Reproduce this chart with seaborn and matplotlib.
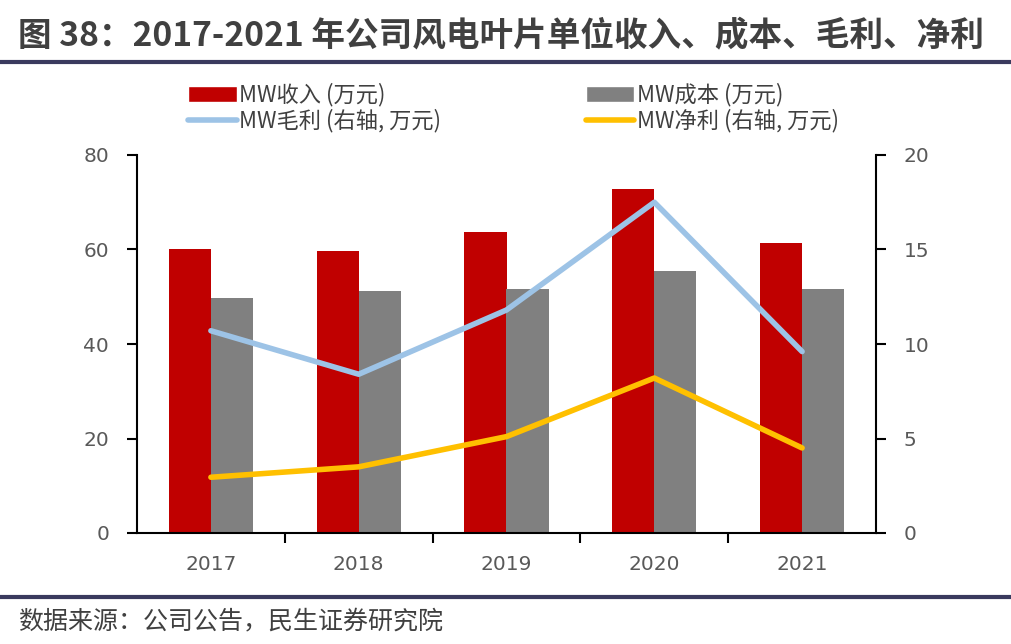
import numpy as np
import pandas as pd
import seaborn as sns
import matplotlib.pyplot as plt
from matplotlib.patches import Patch
from matplotlib.lines import Line2D

years = ['2017', '2018', '2019', '2020', '2021']
revenue = [60.1, 59.7, 63.6, 72.9, 61.3]   # MW收入, left axis
cost = [49.7, 51.2, 51.6, 55.4, 51.6]      # MW成本, left axis
gross = [10.7, 8.4, 11.8, 17.5, 9.6]       # MW毛利, right axis
net = [2.95, 3.5, 5.1, 8.2, 4.5]           # MW净利, right axis

labels = ['MW收入 (万元)', 'MW成本 (万元)', 'MW毛利 (右轴, 万元)', 'MW净利 (右轴, 万元)']
title = '图 38：2017-2021 年公司风电叶片单位收入、成本、毛利、净利'
source = '数据来源：公司公告，民生证券研究院'

RED = '#C00000'
GRAY = '#808080'
BLUE = '#9DC3E6'
GOLD = '#FFC000'
TXT = '#595959'
NAVY = '#3a3a5e'

sns.set_theme(style='ticks')
plt.rcParams['font.family'] = ['Noto Sans CJK SC', 'DejaVu Sans']

df = pd.DataFrame({
    'year': years * 2,
    'value': revenue + cost,
    'series': [labels[0]] * len(years) + [labels[1]] * len(years),
})

fig = plt.figure(figsize=(10.11, 6.44), dpi=100)
ax = fig.add_axes([137 / 1011, 111 / 644, (876 - 137) / 1011, (533 - 155) / 644])

sns.barplot(data=df, x='year', y='value', hue='series', palette=[RED, GRAY],
            width=0.57, gap=0, saturation=1, legend=False, linewidth=0, ax=ax)
ax.set_ylim(0, 80)
ax.set_yticks([0, 20, 40, 60, 80])
ax.set_xlabel('')
ax.set_ylabel('')

ax2 = ax.twinx()
xpos = np.arange(len(years))
sns.lineplot(x=xpos, y=gross, ax=ax2, color=BLUE, linewidth=4)
sns.lineplot(x=xpos, y=net, ax=ax2, color=GOLD, linewidth=4)
ax2.set_ylim(0, 20)
ax2.set_yticks([0, 5, 10, 15, 20])
ax.set_xlim(-0.5, len(years) - 0.5)

# spines
for s in ['top', 'right']:
    ax.spines[s].set_visible(False)
for s in ['top', 'left', 'bottom']:
    ax2.spines[s].set_visible(False)
for sp in [ax.spines['left'], ax.spines['bottom'], ax2.spines['right']]:
    sp.set_color('black')
    sp.set_linewidth(1.5)

# x ticks: labels at centres, tick marks between categories
ax.set_xticks(xpos)
ax.set_xticklabels(years)
ax.set_xticks(np.arange(0.5, len(years) - 1, 1), minor=True)
ax.tick_params(axis='x', which='major', length=0, pad=16, labelsize=14.5, labelcolor=TXT)
ax.tick_params(axis='x', which='minor', length=7, width=1.5, color='black')
ax.tick_params(axis='y', length=7, width=1.5, color='black', labelsize=14.5, labelcolor=TXT, pad=13)
ax2.tick_params(axis='y', length=7, width=1.5, color='black', labelsize=14.5, labelcolor=TXT, pad=13)
for lab in ax.get_xticklabels() + ax.get_yticklabels() + ax2.get_yticklabels():
    lab.set_family('DejaVu Sans')

handles = [
    Patch(facecolor=RED, label=labels[0]),
    Line2D([], [], color=BLUE, lw=4, label=labels[2]),
    Patch(facecolor=GRAY, label=labels[1]),
    Line2D([], [], color=GOLD, lw=4, label=labels[3]),
]
fig.legend(handles=handles, ncol=2, loc='upper left',
           bbox_to_anchor=(168 / 1011, 1 - 63 / 644), frameon=False,
           fontsize=16, labelcolor='#404040', handlelength=2.2, handleheight=0.7,
           handletextpad=0.1, columnspacing=6.5, labelspacing=0.1)

fig.text(18 / 1011, 1 - 36 / 644, title, fontsize=24.2, fontweight='bold',
         color='#404040', va='center', ha='left')
fig.add_artist(Line2D([0, 1], [1 - 62 / 644] * 2, transform=fig.transFigure,
                      color=NAVY, lw=3))
fig.add_artist(Line2D([0, 1], [1 - 597 / 644] * 2, transform=fig.transFigure,
                      color=NAVY, lw=3))
fig.text(18 / 1011, 1 - 621 / 644, source, fontsize=18, color='#404040',
         va='center', ha='left')

fig.savefig('out.png', dpi=100)
